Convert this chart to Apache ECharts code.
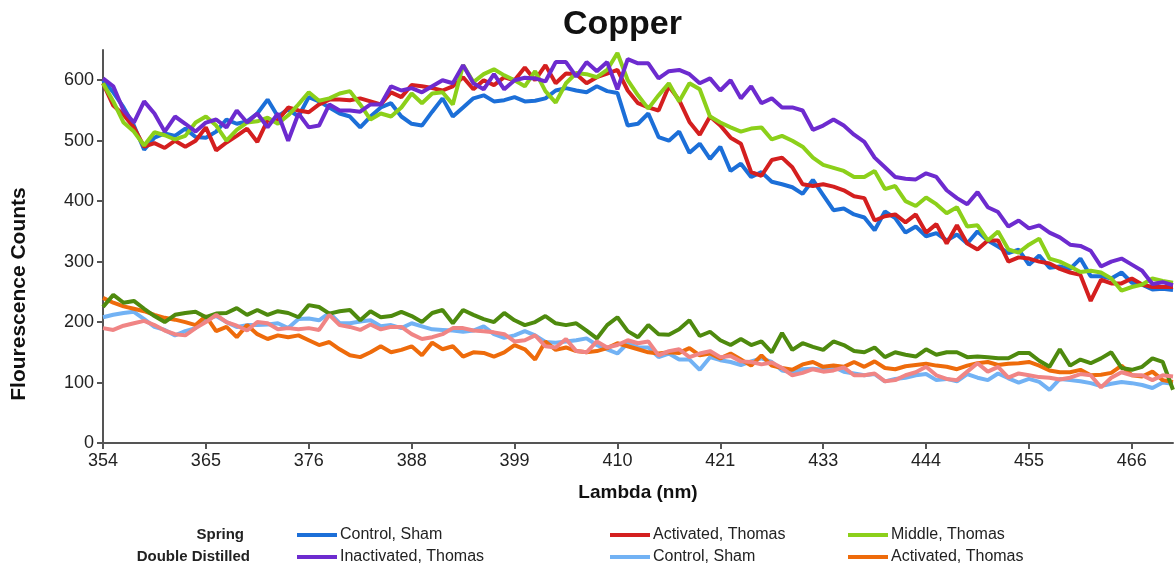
<!DOCTYPE html>
<html>
<head>
<meta charset="utf-8">
<title>Copper</title>
<script src="https://cdn.jsdelivr.net/npm/echarts@6/dist/echarts.min.js"></script>
<style>
  html, body { margin: 0; padding: 0; background: #fff; }
  #chart { width: 1175px; height: 569px; }
</style>
</head>
<body>
<div id="chart"></div>
<script>
// wavelength (nm) for each sample
const lambda = [
  '354.0','355.1','356.2','357.4','358.5','359.6','360.7','361.9','363.0','364.1',
  '365.2','366.4','367.5','368.6','369.7','370.8','372.0','373.1','374.2','375.3',
  '376.4','377.6','378.7','379.8','381.0','382.1','383.2','384.3','385.4','386.6',
  '387.7','388.8','389.9','391.1','392.2','393.3','394.4','395.6','396.7','397.8',
  '398.9','400.0','401.2','402.3','403.4','404.5','405.7','406.8','407.9','409.0',
  '410.2','411.3','412.4','413.5','414.6','415.8','416.9','418.0','419.1','420.3',
  '421.4','422.5','423.6','424.7','425.9','427.0','428.1','429.2','430.4','431.5',
  '432.6','433.7','434.9','436.0','437.1','438.2','439.3','440.5','441.6','442.7',
  '443.8','445.0','446.1','447.2','448.3','449.5','450.6','451.7','452.8','453.9',
  '455.1','456.2','457.3','458.4','459.6','460.7','461.8','462.9','464.1','465.2',
  '466.3','467.4','468.5','469.7','470.8'
];

// Spring water
const springControlSham = [
  600,580,555,525,485,505,512,508,520,506, 505,515,535,528,532,545,568,540,552,540,
  572,565,555,545,540,522,540,555,562,540, 528,525,548,570,540,555,570,575,565,567,
  572,565,566,570,583,587,583,580,590,582, 579,525,528,545,506,500,515,480,495,470,
  490,450,462,440,448,432,428,423,412,435, 410,385,388,378,373,352,383,372,348,358,
  342,347,335,345,330,350,335,325,314,320, 295,310,290,292,288,305,276,276,272,282,
  265,262,254,255,253
];
const springActivated = [
  595,558,543,522,490,496,488,500,490,500, 522,484,497,508,520,498,534,534,555,550,
  547,560,568,568,567,570,565,560,580,572, 592,590,587,583,590,605,585,600,592,605,
  600,621,600,625,595,611,610,595,605,611, 617,583,562,555,550,590,567,531,510,540,
  525,505,495,448,442,468,472,456,428,425, 428,424,418,408,405,368,375,378,365,378,
  348,362,330,360,330,320,335,335,300,307, 305,300,297,288,282,278,235,270,264,264,
  272,262,258,258,258
];
const springMiddle = [
  595,565,530,515,492,514,509,502,508,530, 540,525,500,518,530,532,538,528,542,560,
  580,566,570,578,582,560,535,545,540,555, 578,562,578,580,560,625,597,610,618,608,
  600,590,615,582,563,595,612,610,605,617, 645,600,575,553,575,595,565,595,585,540,
  530,522,515,520,522,502,508,500,490,472, 460,455,450,440,440,450,420,425,400,392,
  406,395,380,390,358,360,335,350,320,315, 328,338,305,300,292,283,285,282,272,252,
  258,262,272,268,265
];
const springInactivated = [
  603,590,550,530,565,545,515,540,528,515, 530,535,522,550,530,545,522,545,500,545,
  522,525,560,550,550,548,560,560,590,583, 587,580,590,600,595,625,595,585,610,585,
  600,604,603,598,630,630,606,630,615,630, 585,635,628,628,603,615,617,610,595,603,
  583,600,570,590,562,570,555,555,550,518, 525,535,525,510,498,472,456,440,437,436,
  446,440,418,405,395,415,390,382,358,368, 355,360,348,340,328,326,318,292,300,305,
  295,285,263,266,261
];

// Double distilled water
const ddControlSham = [
  208,212,215,217,205,192,187,178,185,190, 205,210,200,192,195,195,196,198,190,205,
  206,203,215,198,198,201,203,193,195,190, 198,193,188,187,186,184,186,193,180,174,
  178,185,178,167,166,168,170,173,162,155, 148,165,158,158,142,148,138,138,121,142,
  137,134,129,135,140,134,120,117,122,123, 121,126,118,115,112,114,102,106,108,112,
  114,104,106,102,114,108,104,115,107,100, 106,101,88,106,104,102,99,94,98,101,
  99,96,91,100,98
];
const ddActivated = [
  240,232,226,222,218,212,207,204,200,195, 210,185,192,175,195,180,172,178,175,178,
  170,162,167,155,145,142,150,160,150,154, 160,145,166,155,160,143,150,149,143,150,
  162,155,138,168,154,158,152,150,152,157, 165,160,155,150,148,150,149,157,145,148,
  140,148,138,128,145,128,124,121,130,134, 126,128,126,134,126,135,124,122,127,129,
  131,128,126,122,128,132,134,129,131,132, 134,128,120,117,117,121,112,113,116,128,
  112,110,118,104,101
];
const ddMiddle = [
  225,245,232,235,222,210,200,212,215,217, 208,214,215,223,212,220,212,218,215,208,
  228,225,214,218,220,203,218,208,210,217, 210,200,215,220,198,220,212,205,200,215,
  203,195,200,210,198,195,198,186,173,195, 208,185,175,195,180,179,188,203,177,184,
  170,162,172,162,168,150,182,154,165,159, 154,168,162,152,150,158,142,150,146,143,
  155,146,150,150,142,143,142,140,140,149, 149,136,126,155,128,138,132,140,150,124,
  121,126,140,134,88
];
const ddInactivated = [
  190,187,194,198,202,195,186,180,178,190, 200,212,200,194,186,200,198,188,190,188,
  190,187,212,195,192,187,196,188,192,192, 180,172,175,180,190,190,186,185,183,180,
  168,170,178,160,158,172,152,150,168,158, 162,170,165,168,145,152,155,142,148,152,
  142,144,135,134,130,133,124,112,116,122, 118,120,125,112,112,115,102,104,112,117,
  126,112,106,104,118,132,118,126,108,115, 112,109,108,105,108,114,112,92,108,117,
  112,112,104,112,110
];

const seriesDefs = [
  { name: 'Control, Sham (Spring)',          data: springControlSham, color: '#1c6fd8' },
  { name: 'Activated, Thomas (Spring)',      data: springActivated,   color: '#d41f1f' },
  { name: 'Middle, Thomas (Spring)',         data: springMiddle,      color: '#8cd01a' },
  { name: 'Inactivated, Thomas (Spring)',    data: springInactivated, color: '#6d2bcf' },
  { name: 'Control, Sham (Double)',          data: ddControlSham,     color: '#72b2f4' },
  { name: 'Activated, Thomas (Double)',      data: ddActivated,       color: '#ee6b0b' },
  { name: 'Middle, Thomas (Double)',         data: ddMiddle,          color: '#4e8a0e' },
  { name: 'Inactivated, Thomas (Double)',    data: ddInactivated,     color: '#f08585' }
];

// legend entries in the order they sit under the chart (two rows of three)
const legendItems = [
  'Control, Sham (Spring)', 'Activated, Thomas (Spring)', 'Middle, Thomas (Spring)',
  'Inactivated, Thomas (Spring)', 'Control, Sham (Double)', 'Activated, Thomas (Double)'
];
const legendLeft = [292, 605, 843];
const legendTop = [522, 544];

var chart = echarts.init(document.getElementById('chart'), null, { renderer: 'canvas' });

var font = 'Liberation Sans, Arial, Helvetica, sans-serif';

var option = {
    animation: false,
    backgroundColor: '#fff',
    textStyle: { fontFamily: font },
    title: {
        text: 'Copper',
        left: 558,
        top: 3,
        textStyle: { fontSize: 34, fontWeight: 'bold', color: '#111', fontFamily: font }
    },
    grid: {
        left: 103,
        right: 2,
        top: 50,
        bottom: 126,
        containLabel: false,
        outerBoundsMode: 'none'
    },
    legend: legendItems.map(function (name, k) {
        return {
            data: [name],
            orient: 'horizontal',
            left: legendLeft[k % 3],
            top: legendTop[Math.floor(k / 3)],
            itemWidth: 40,
            itemHeight: 4,
            icon: 'rect',
            selectedMode: false,
            formatter: function (n) { return n.split(' (')[0]; },
            textStyle: { fontSize: 16, color: '#222', fontFamily: font, padding: [0, 0, 0, -2] }
        };
    }),
    graphic: [
        { type: 'text', x: 244, y: 535,
          style: { text: 'Spring', font: 'bold 15px ' + font, fill: '#222',
                   align: 'right', verticalAlign: 'middle' } },
        { type: 'text', x: 250, y: 557,
          style: { text: 'Double Distilled', font: 'bold 15px ' + font, fill: '#222',
                   align: 'right', verticalAlign: 'middle' } },
        { type: 'text', x: 19, y: 294, rotation: Math.PI / 2,
          style: { text: 'Flourescence Counts', font: 'bold 21px ' + font, fill: '#111',
                   align: 'center', verticalAlign: 'middle' } }
    ],
    xAxis: {
        type: 'category',
        data: lambda,
        boundaryGap: false,
        name: 'Lambda (nm)',
        nameLocation: 'middle',
        nameGap: 40,
        nameTextStyle: { fontSize: 19, fontWeight: 'bold', color: '#111', fontFamily: font },
        axisLine: { lineStyle: { color: '#555', width: 2 } },
        axisTick: { interval: 9, length: 6, lineStyle: { color: '#555', width: 2 } },
        axisLabel: {
            interval: 9,
            fontSize: 18,
            color: '#222',
            margin: 9,
            formatter: function (v) { return String(Math.round(parseFloat(v))); }
        },
        splitLine: { show: false }
    },
    yAxis: {
        type: 'value',
        min: 0,
        max: 650,
        interval: 100,
        axisLine: { show: true, lineStyle: { color: '#555', width: 2 } },
        axisTick: { show: true, length: 6, lineStyle: { color: '#555', width: 2 },
                    customValues: [0, 100, 200, 300, 400, 500, 600] },
        axisLabel: { fontSize: 18, color: '#222', margin: 9,
                     customValues: [0, 100, 200, 300, 400, 500, 600] },
        splitLine: { show: false }
    },
    series: seriesDefs.map(function (s) {
        return {
            name: s.name,
            type: 'line',
            data: s.data,
            showSymbol: false,
            symbol: 'none',
            lineStyle: { width: 4, color: s.color },
            itemStyle: { color: s.color },
            emphasis: { disabled: true }
        };
    })
};

chart.setOption(option);
</script>
</body>
</html>
